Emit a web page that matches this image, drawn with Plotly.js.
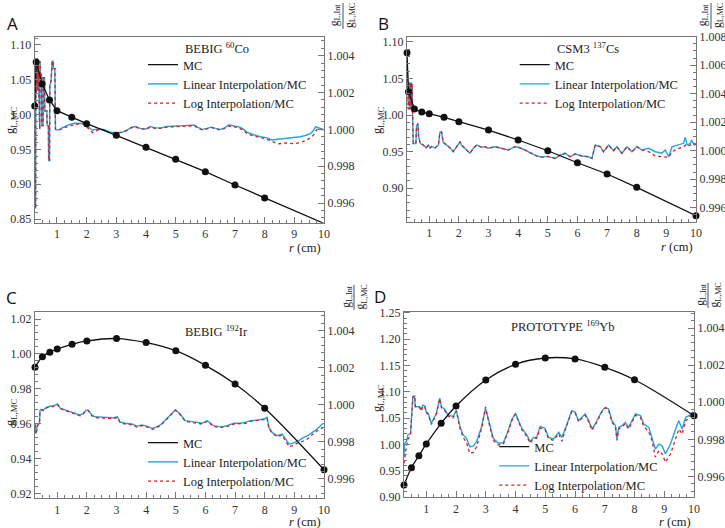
<!DOCTYPE html>
<html><head><meta charset="utf-8">
<script src="https://cdn.plot.ly/plotly-3.0.1.min.js"></script>
<style>html,body{margin:0;padding:0;background:#fff}</style>
</head><body><div id="chart" style="width:725px;height:528px"></div>
<script>
// ---------- DATA ----------
const mcR = [0.25,0.3,0.5,0.75,1,1.5,2,3,4,5,6,7,8,10];
const mcA = [1.0124,1.0756,1.044,1.021,1.0056,0.9961,0.9869,0.9703,0.953,0.9358,0.918,0.8989,0.8802,0.8437];
const mcB = [1.0853,1.032,1.0083,1.0042,1.0019,0.997,0.991,0.9796,0.966,0.9513,0.9349,0.9195,0.9013,0.8625];
const mcRC = [0.25,0.5,0.75,1,1.5,2,3,4,5,6,7,8,10];
const mcC = [0.9923,0.9984,1.0009,1.0028,1.0055,1.0074,1.0088,1.0065,1.0018,0.9934,0.9827,0.9688,0.9335];
const mcD = [0.9228,0.9557,0.9785,1.0008,1.0401,1.073,1.1224,1.1523,1.1643,1.1624,1.1466,1.123,1.0546];

// Panel A ratios
const rA = [0.25,0.26,0.28,0.29,0.30,0.31,0.32,0.33,0.34,0.35,0.36,0.37,0.38,0.39,0.40,0.42,0.43,0.45,0.46,0.48,0.49,0.53,0.54,0.58,0.59,0.66,0.67,0.71,0.72,0.75,0.76,0.80,0.82,0.84,0.87,0.88,0.93,0.95,
  1.00,1.10,1.20,1.30,1.45,1.60,1.75,1.90,2.00,2.10,2.20,2.30,2.45,2.60,2.80,3.00,3.20,3.35,3.50,3.65,3.80,4.00,4.15,4.30,4.50,4.70,4.90,5.10,5.30,5.50,5.65,5.75,5.90,6.05,6.20,6.35,6.50,6.65,6.80,6.95,7.10,7.25,7.40,7.60,7.85,8.05,8.25,8.45,8.70,9.00,9.20,9.40,9.55,9.65,9.72,9.78,9.90,10.0];
const linA = [1.0008,0.9957,0.9957,1.0037,1.0020,1.0037,1.0022,1.0037,1.0021,1.0037,1.0022,1.0037,1.0024,1.0037,1.0000,1.0000,1.0037,1.0025,1.0030,1.0030,1.0002,1.0002,1.0028,1.0028,1.0010,1.0010,1.0002,1.0002,0.9983,0.9983,1.0024,1.0026,1.0030,1.0037,1.0037,1.0033,1.0033,1.0000,
  0.99996,1.00000,1.00010,1.00018,1.00028,1.00033,1.00034,1.00032,1.00020,1.00005,0.99995,1.00000,1.00002,0.99998,0.99985,0.99982,0.99985,0.99995,1.00010,1.00015,1.00005,1.00002,1.00015,1.00008,1.00008,1.00015,1.00018,1.00020,1.00020,1.00022,1.00022,1.00010,1.00000,1.00005,1.00012,1.00005,1.00000,1.00008,1.00025,1.00018,1.00015,1.00005,0.99985,0.99972,0.99960,0.99955,0.99942,0.99946,0.99950,0.99955,0.99960,0.99968,0.99978,0.99995,1.00014,1.00010,1.00003,0.99998];
const logA = [1.0008,0.9957,0.9957,1.0037,1.0020,1.0037,1.0022,1.0037,1.0021,1.0037,1.0022,1.0037,1.0024,1.0037,1.0000,1.0000,1.0037,1.0025,1.0030,1.0030,1.0002,1.0002,1.0028,1.0028,1.0010,1.0010,1.0002,1.0002,0.9983,0.9983,1.0024,1.0026,1.0030,1.0037,1.0037,1.0033,1.0033,1.0000,
  0.99996,0.99998,1.00005,1.00012,1.00020,1.00025,1.00030,1.00030,1.00015,0.99995,0.99982,0.99990,1.00000,0.99996,0.99982,0.99980,0.99984,0.99993,1.00008,1.00013,1.00003,1.00000,1.00013,1.00006,1.00005,1.00012,1.00015,1.00017,1.00017,1.00018,1.00018,1.00005,0.99997,1.00002,1.00010,1.00002,0.99997,1.00005,1.00018,1.00014,1.00010,0.99998,0.99978,0.99965,0.99955,0.99948,0.99935,0.99921,0.99926,0.99922,0.99928,0.99940,0.99955,0.99970,0.99990,1.00005,1.00000,0.99996];

// Panel B ratios
const rB = [0.25,0.27,0.29,0.30,0.31,0.33,0.34,0.36,0.37,0.39,0.40,0.42,0.44,0.46,0.55,0.57,0.62,0.64,0.70,0.80,0.90,0.97,1.03,1.08,1.20,1.31,1.36,1.42,1.47,1.59,1.70,1.81,1.92,2.04,2.09,2.20,2.32,2.37,2.49,2.60,2.77,2.88,2.99,3.22,3.44,3.67,3.89,4.01,4.23,4.46,4.63,4.80,5.00,5.25,5.42,5.59,5.75,5.92,6.15,6.37,6.49,6.60,6.77,6.88,7.05,7.22,7.33,7.50,7.67,7.84,8.01,8.18,8.40,8.63,8.85,8.96,9.08,9.19,9.41,9.58,9.64,9.70,9.81,9.85,9.94,10.0];
const linB = [1.0059,1.0050,1.0045,1.0045,1.0040,1.0048,1.0030,1.0048,1.0030,1.0048,1.0030,1.0047,1.0030,1.0005,1.0005,1.0017,1.0019,1.0010,1.0005,1.0004,1.0002,1.0004,1.0002,1.0003,1.0002,1.0004,1.0013,1.0013,1.0006,1.0004,1.0002,0.99993,1.00028,1.00063,1.0004,1.00017,0.99993,0.99982,1.00017,1.0004,1.00024,1.00028,1.00017,1.00028,1.00017,1.00005,1.00028,1.00024,1.00005,0.99982,0.99963,0.99955,0.9996,0.99946,0.9997,0.99982,0.99958,0.99977,0.99963,0.99958,0.99946,1.0004,1.00028,0.99993,1.0004,1.0000,1.00028,0.99982,1.00028,0.99993,1.00028,1.00005,1.00017,0.99993,0.99982,1.00005,0.99958,1.00028,1.0004,1.00052,1.00094,1.0004,1.00052,1.00075,1.0004,1.00052];
const logB = [1.0059,1.0048,1.0029,1.0048,1.0029,1.0048,1.0029,1.0048,1.0029,1.0048,1.0029,1.0047,1.0030,1.0005,1.0005,1.0017,1.0019,1.0010,1.0005,1.0004,1.0002,1.0004,1.0002,1.0003,1.0002,1.0004,1.0013,1.0013,1.0006,1.0004,1.0002,0.99993,1.00028,1.00063,1.0004,1.00017,0.99993,0.99982,1.00017,1.0004,1.00024,1.00028,1.00017,1.00028,1.00017,1.00005,1.00028,1.00024,1.00005,0.99982,0.99963,0.99955,0.9996,0.99946,0.9997,0.99982,0.99958,0.99977,0.99963,0.99958,0.99946,1.0004,1.00028,0.99993,1.0004,1.0000,1.00028,0.99982,1.00028,0.99993,1.00028,1.00005,0.99993,0.99963,0.99958,0.99960,0.99954,0.99993,1.00017,1.00025,1.0004,1.00030,1.0004,1.00045,1.00052,1.0004];

// Panel C ratios
const rC = [0.25,0.28,0.33,0.40,0.42,0.48,0.53,0.64,0.76,0.87,0.93,1.01,1.10,1.27,1.43,1.60,1.77,1.88,1.97,2.05,2.17,2.28,2.45,2.67,2.90,3.03,3.12,3.29,3.52,3.69,3.86,4.03,4.20,4.31,4.48,4.65,4.82,4.99,5.15,5.32,5.49,5.72,5.89,6.06,6.28,6.51,6.73,6.96,7.18,7.35,7.52,7.75,7.97,8.08,8.14,8.25,8.42,8.59,8.70,8.82,8.93,9.04,9.16,9.27,9.44,9.61,9.77,9.94,10.0];
const linC = [0.99900,0.99846,0.99891,0.99900,0.99971,0.99975,0.99971,0.99986,0.99993,0.99993,0.99998,1.00004,0.99981,0.99971,0.99962,0.99954,0.99944,0.99954,0.99971,0.99971,0.99944,0.99935,0.99932,0.99932,0.99930,0.99935,0.99908,0.99900,0.99896,0.99885,0.99891,0.99885,0.99873,0.99878,0.99891,0.99918,0.99944,0.99973,0.99950,0.99914,0.99910,0.99905,0.99900,0.99914,0.99887,0.99881,0.99887,0.99900,0.99900,0.99905,0.99914,0.99918,0.99923,0.99932,0.99878,0.99851,0.99833,0.99842,0.99815,0.99788,0.99792,0.99800,0.99806,0.99820,0.99833,0.99851,0.99869,0.99896,0.99900];
const logC = [0.99895,0.99840,0.99886,0.99898,0.99968,0.99972,0.99968,0.99983,0.99990,0.99990,0.99995,1.00001,0.99978,0.99968,0.99959,0.99950,0.99940,0.99950,0.99968,0.99968,0.99940,0.99930,0.99928,0.99928,0.99926,0.99931,0.99904,0.99896,0.99892,0.99880,0.99887,0.99880,0.99868,0.99873,0.99887,0.99914,0.99940,0.99970,0.99946,0.99910,0.99906,0.99900,0.99896,0.99910,0.99883,0.99877,0.99883,0.99896,0.99896,0.99900,0.99910,0.99914,0.99920,0.99928,0.99873,0.99846,0.99828,0.99836,0.99808,0.99774,0.99780,0.99790,0.99797,0.99802,0.99815,0.99840,0.99860,0.99875,0.99880];

// Panel D ratios
const rD = [0.25,0.27,0.33,0.38,0.47,0.50,0.55,0.61,0.63,0.78,0.83,0.89,0.95,1.00,1.06,1.17,1.23,1.34,1.45,1.51,1.62,1.73,1.90,2.01,2.13,2.24,2.35,2.46,2.58,2.69,2.86,2.99,3.08,3.25,3.42,3.59,3.76,3.87,4.00,4.09,4.21,4.38,4.49,4.60,4.71,4.83,4.99,5.11,5.28,5.45,5.56,5.67,5.78,5.89,6.01,6.12,6.23,6.34,6.46,6.57,6.68,6.80,6.91,7.02,7.13,7.24,7.36,7.41,7.47,7.58,7.69,7.80,7.92,8.03,8.20,8.31,8.48,8.59,8.70,8.82,8.93,9.04,9.21,9.38,9.49,9.60,9.72,9.83,9.94,10.0];
const linD = [0.99707,0.99779,0.99788,0.99824,0.99833,0.99922,1.00030,1.00034,0.99976,0.99976,0.99958,0.99985,0.99980,0.99949,0.99941,0.99887,0.99905,0.99941,1.00022,0.99976,0.99962,0.99932,0.99922,0.99958,0.99869,0.99824,0.99806,0.99761,0.99764,0.99788,0.99869,0.99968,0.99914,0.99806,0.99779,0.99782,0.99851,0.99905,0.99941,0.99905,0.99860,0.99824,0.99788,0.99811,0.99811,0.99870,0.99860,0.99811,0.99802,0.99838,0.99811,0.99856,0.99910,0.99955,0.99946,0.99901,0.99919,0.99937,0.99901,0.99856,0.99883,0.99919,0.99955,0.99973,0.99964,0.99901,0.99874,0.99802,0.99865,0.99874,0.99892,0.99865,0.99901,0.99937,0.99928,0.99883,0.99865,0.99811,0.99748,0.99775,0.99766,0.99721,0.99775,0.99856,0.99901,0.99856,0.99919,0.99928,0.99946,0.99940];
const logD = [0.99671,0.99700,0.99760,0.99800,0.99825,0.99910,1.00030,1.00034,0.99976,0.99970,0.99952,0.99980,0.99975,0.99943,0.99935,0.99880,0.99900,0.99936,1.00020,0.99970,0.99955,0.99925,0.99915,0.99952,0.99860,0.99810,0.99785,0.99725,0.99730,0.99760,0.99860,0.99975,0.99905,0.99795,0.99770,0.99775,0.99845,0.99900,0.99936,0.99898,0.99852,0.99815,0.99780,0.99805,0.99805,0.99862,0.99852,0.99805,0.99795,0.99830,0.99790,0.99850,0.99903,0.99950,0.99940,0.99895,0.99912,0.99930,0.99895,0.99850,0.99877,0.99912,0.99950,0.99970,0.99958,0.99893,0.99866,0.99795,0.99858,0.99866,0.99885,0.99856,0.99893,0.99930,0.99918,0.99870,0.99840,0.99793,0.99704,0.99739,0.99721,0.99677,0.99721,0.99802,0.99856,0.99829,0.99901,0.99915,0.99937,0.99930];

// ---------- LAYOUT HELPERS ----------
const W = 725, H = 528;
const px = v => v / W, py = v => 1 - v / H;
const SERIF = 'Liberation Serif';
const FR = '#777';
const BLUE = '#22a6dc', RED = '#d61f26';
const tf = () => ({family: SERIF, size: 12, color: '#333'});

function xax(x0, x1, anchor) {
  return {domain: [px(x0), px(x1)], anchor: anchor, range: [0.25, 10], tickmode: 'linear', tick0: 0, dtick: 1,
    ticks: 'inside', ticklen: 6, tickcolor: FR, showline: true, linecolor: FR, linewidth: 1, mirror: true,
    showgrid: false, zeroline: false, tickfont: tf(),
    minor: {tickmode: 'linear', tick0: 0, dtick: 0.25, ticks: 'inside', ticklen: 3, tickcolor: FR}};
}
function yRight(y0, y1, anchor, range, minorDt) {
  return {domain: [py(y1), py(y0)], anchor: anchor, side: 'right', range: range, tickmode: 'linear', tick0: 0, dtick: 0.002,
    tickformat: '.3f', ticks: 'inside', ticklen: 6, tickcolor: FR, showline: true, linecolor: FR, linewidth: 1,
    showgrid: false, zeroline: false, tickfont: tf(),
    minor: {tickmode: 'linear', tick0: 0, dtick: minorDt, ticks: 'inside', ticklen: 3, tickcolor: FR}};
}
function yLeft(anchor, over, range, dt, minorDt) {
  return {anchor: anchor, overlaying: over, side: 'left', range: range, tickmode: 'linear', tick0: 0, dtick: dt,
    tickformat: '.2f', ticks: 'inside', ticklen: 6, tickcolor: FR, showline: true, linecolor: FR, linewidth: 1,
    showgrid: false, zeroline: false, tickfont: tf(),
    minor: {tickmode: 'linear', tick0: 0, dtick: minorDt, ticks: 'inside', ticklen: 3, tickcolor: FR}};
}

function panelTraces(xa, yr, yl, leg, r, lin, lg, mr, mc, shape, grp) {
  return [
    {x: r, y: lin, xaxis: xa, yaxis: yr, mode: 'lines', name: 'Linear Interpolation/MC',
     line: {color: BLUE, width: 1.4}, legend: leg, legendgroup: grp + '2', legendrank: 2},
    {x: r, y: lg, xaxis: xa, yaxis: yr, mode: 'lines', name: 'Log Interpolation/MC',
     line: {color: RED, width: 1.3, dash: 'dot'}, legend: leg, legendgroup: grp + '3', legendrank: 3},
    {x: mr, y: mc, xaxis: xa, yaxis: yl, mode: 'lines', name: 'MC', cliponaxis: false,
     line: {color: '#111', width: 1.3, shape: shape, smoothing: 1},
     legend: leg, legendgroup: grp + '1', legendrank: 1},
    {x: mr, y: mc, xaxis: xa, yaxis: yl, mode: 'markers', name: 'MC', cliponaxis: false, showlegend: false,
     marker: {color: '#111', size: 7}, legend: leg, legendgroup: grp + '1'}
  ];
}

const data = [].concat(
  panelTraces('x', 'y', 'y2', 'legend', rA, linA, logA, mcR, mcA, 'linear', 'a'),
  panelTraces('x2', 'y3', 'y4', 'legend2', rB, linB, logB, mcR, mcB, 'linear', 'b'),
  panelTraces('x3', 'y5', 'y6', 'legend3', rC, linC, logC, mcRC, mcC, 'spline', 'c'),
  panelTraces('x4', 'y7', 'y8', 'legend4', rD, linD, logD, mcRC, mcD, 'spline', 'd')
);

function legendAt(x, y, gap) {
  return {x: px(x), y: py(y), xanchor: 'left', yanchor: 'top', bgcolor: 'rgba(0,0,0,0)', borderwidth: 0,
    font: {family: SERIF, size: 12.5, color: '#222'}, tracegroupgap: gap, itemwidth: 30, traceorder: 'normal'};
}

function ann(text, x, y, opts) {
  return Object.assign({text: text, xref: 'paper', yref: 'paper', x: px(x), y: py(y), showarrow: false,
    xanchor: 'center', yanchor: 'middle', font: {family: SERIF, size: 12.5, color: '#222'}}, opts || {});
}
const letterFont = {family: 'Open Sans', size: 17, color: '#111'};
const fracFont = {family: SERIF, size: 11.5, color: '#222'};
const fracText = 'g<sub>L,Int</sub><br>g<sub>L,MC</sub>';
const rTxt = '<i>r</i> (cm)';
const gTxt = 'g<sub>L,MC</sub>';

const annotations = [
  ann('A', 12, 23.5, {font: letterFont}),
  ann('B', 383.5, 23, {font: letterFont}),
  ann('C', 11, 297.5, {font: letterFont}),
  ann('D', 380, 296.5, {font: letterFont}),
  ann(gTxt, 11, 120, {textangle: -90}),
  ann(gTxt, 378, 120, {textangle: -90}),
  ann(gTxt, 11, 412, {textangle: -90}),
  ann(gTxt, 378, 398, {textangle: -90}),
  ann(fracText, 343, 16, {textangle: -90, font: fracFont}),
  ann(fracText, 711, 16, {textangle: -90, font: fracFont}),
  ann(fracText, 354, 297.5, {textangle: -90, font: fracFont}),
  ann(fracText, 708, 295.5, {textangle: -90, font: fracFont}),
  ann(rTxt, 323, 248, {xanchor: 'right'}),
  ann(rTxt, 695, 247, {xanchor: 'right'}),
  ann(rTxt, 323, 521.5, {xanchor: 'right'}),
  ann(rTxt, 693, 521.5, {xanchor: 'right'}),
  ann('BEBIG <sup>60</sup>Co', 183, 48.3, {xanchor: 'left'}),
  ann('CSM3 <sup>137</sup>Cs', 554.7, 48.3, {xanchor: 'left'}),
  ann('BEBIG <sup>192</sup>Ir', 183, 330.7, {xanchor: 'left'}),
  ann('PROTOTYPE <sup>169</sup>Yb', 508.7, 325.7, {xanchor: 'left'})
];
function bar(x, y0, y1) {
  return {type: 'line', xref: 'paper', yref: 'paper', x0: px(x), x1: px(x), y0: py(y0), y1: py(y1),
    line: {color: '#222', width: 0.8}};
}
const shapes = [bar(343, 3, 29), bar(711, 3, 29), bar(354, 285, 310), bar(708, 283, 308)];

const layout = {
  width: W, height: H, margin: {l: 0, r: 0, t: 0, b: 0}, paper_bgcolor: '#fff', plot_bgcolor: '#fff',
  font: {family: SERIF, size: 12, color: '#333'},
  showlegend: true,
  xaxis: xax(34.7, 324, 'y'),
  yaxis: yRight(36.7, 222.7, 'x', [0.99493, 1.00503], 0.0004),
  yaxis2: yLeft('x', 'y', [0.8447, 1.1119], 0.05, 0.01),
  xaxis2: xax(407, 696, 'y3'),
  yaxis3: yRight(36.7, 221.7, 'x2', [0.99502, 1.0080], 0.0005),
  yaxis4: yLeft('x2', 'y3', [0.8543, 1.1072], 0.05, 0.01),
  xaxis3: xax(35, 324, 'y5'),
  yaxis5: yRight(311.7, 498.3, 'x3', [0.99496, 1.00501], 0.0004),
  yaxis6: yLeft('x3', 'y5', [0.91714, 1.02419], 0.02, 0.004),
  xaxis4: xax(404, 694, 'y7'),
  yaxis7: yRight(311.7, 497.3, 'x4', [0.99488, 1.00488], 0.0004),
  yaxis8: yLeft('x4', 'y7', [0.89943, 1.2523], 0.05, 0.01),
  legend: legendAt(143, 50, 1.5),
  legend2: legendAt(514.7, 50, 1.5),
  legend3: legendAt(143, 428, 2),
  legend4: legendAt(494.3, 432, 0),
  annotations: annotations,
  shapes: shapes
};

Plotly.newPlot('chart', data, layout, {displayModeBar: false, staticPlot: true});
</script>
</body></html>
